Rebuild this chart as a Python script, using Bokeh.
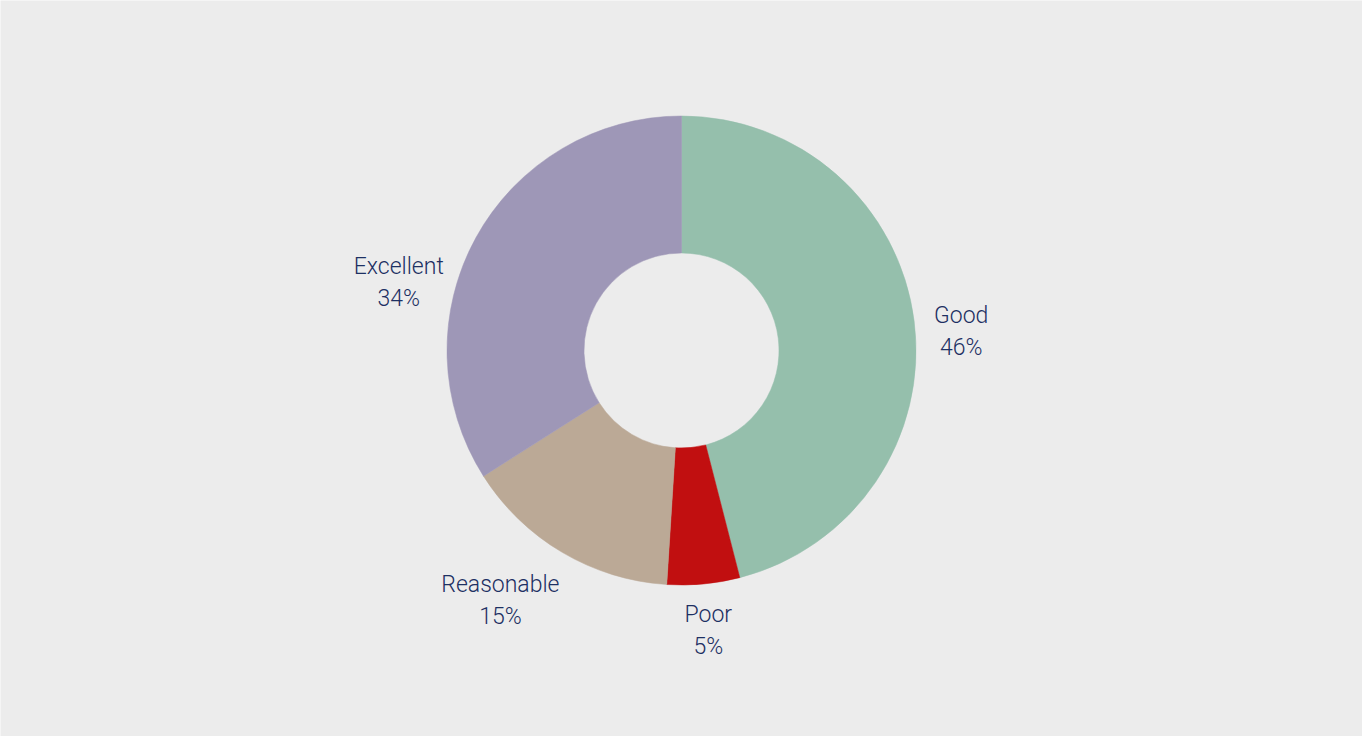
import math
from bokeh.plotting import figure
from bokeh.models import ColumnDataSource
from bokeh.core.properties import value
from bokeh.embed import file_html
from bokeh.resources import INLINE

# ---- data ----
categories = ["Good", "Poor", "Reasonable", "Excellent"]
shares = [46, 5, 15, 34]
colors = ["#95bfac", "#c10f10", "#bba996", "#9e97b7"]

# ---- layout ----
W, H = 1362, 736
cx, cy = 681, 736 - 350
r_out, r_in = 234.5, 97.5
label_r = 285
nudges = {"Good": (-3, -17), "Poor": (0, 4), "Reasonable": (-36, -5), "Excellent": (-33, -69)}

total = float(sum(shares))
starts, ends, lx, ly, names, pcts = [], [], [], [], [], []
acc = 0.0
for c, s in zip(categories, shares):
    a0 = acc / total * 2 * math.pi
    a1 = (acc + s) / total * 2 * math.pi
    acc += s
    starts.append(math.pi / 2 - a0)
    ends.append(math.pi / 2 - a1)
    mid = (a0 + a1) / 2
    dx, dy = nudges[c]
    lx.append(cx + label_r * math.sin(mid) + dx)
    ly.append(cy + label_r * math.cos(mid) + dy)
    names.append(c)
    pcts.append(f"{s}%")

src = ColumnDataSource(dict(start=starts, end=ends, color=colors,
                            lx=lx, ly_top=[y + 16 for y in ly], ly_bot=[y - 16 for y in ly],
                            name=names, pct=pcts))

p = figure(width=W, height=H, x_range=(0, W), y_range=(0, H),
           output_backend="svg", toolbar_location=None, min_border=0)
p.axis.visible = False
p.grid.visible = False
p.outline_line_color = None
p.background_fill_color = "#ececec"
p.border_fill_color = "#ececec"

p.annular_wedge(x=cx, y=cy, inner_radius=r_in, outer_radius=r_out,
                start_angle="start", end_angle="end", direction="clock",
                fill_color="color", line_color="color", line_width=0.5, source=src)

font = value("Roboto Light")
txt_color = "#1d3063"
p.text(x="lx", y="ly_top", text="name", source=src, text_font=font, text_font_size="23px",
       text_color=txt_color, text_align="center", text_baseline="middle")
p.text(x="lx", y="ly_bot", text="pct", source=src, text_font=font, text_font_size="23px",
       text_color=txt_color, text_align="center", text_baseline="middle")

open("out.html", "w").write(file_html(p, INLINE))
